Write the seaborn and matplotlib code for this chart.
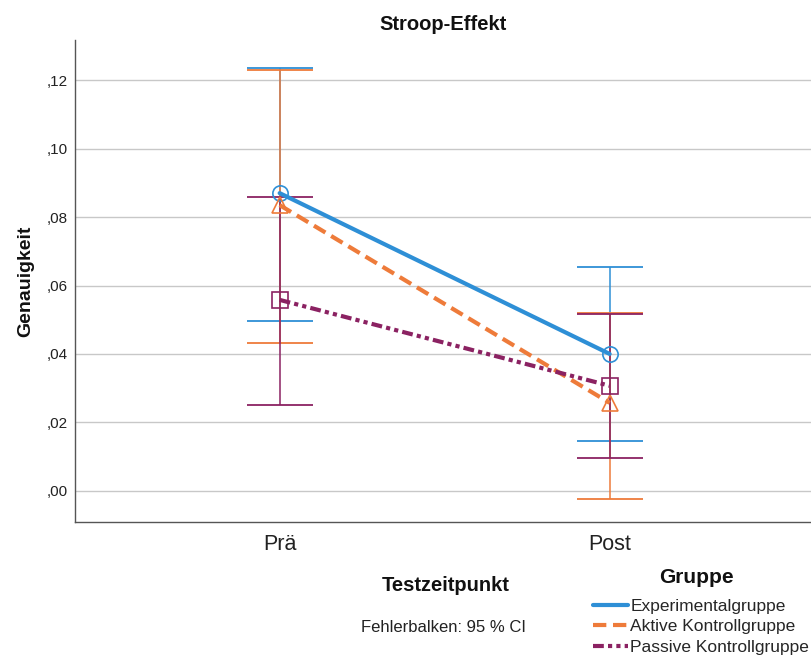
import numpy as np
import pandas as pd
import matplotlib
matplotlib.use("Agg")
import matplotlib.pyplot as plt
from matplotlib.lines import Line2D
import seaborn as sns

# Mittelwerte und 95 %-Konfidenzgrenzen der Genauigkeit (Stroop-Effekt)
zeitpunkte = ["Prä", "Post"]
gruppen = ["Experimentalgruppe", "Aktive Kontrollgruppe", "Passive Kontrollgruppe"]
mittel_exp = [0.0870, 0.0400]
mittel_akt = [0.0835, 0.0257]
mittel_pas = [0.0558, 0.0307]
ci_unten_exp = [0.0496, 0.0146]
ci_oben_exp = [0.1235, 0.0654]
ci_unten_akt = [0.0432, -0.0023]
ci_oben_akt = [0.1229, 0.0520]
ci_unten_pas = [0.0251, 0.0096]
ci_oben_pas = [0.0858, 0.0517]
y_ticks = [0.00, 0.02, 0.04, 0.06, 0.08, 0.10, 0.12]
y_tick_labels = [",00", ",02", ",04", ",06", ",08", ",10", ",12"]

farben = {"Experimentalgruppe": "#2e8fd6",
          "Aktive Kontrollgruppe": "#ee7b3a",
          "Passive Kontrollgruppe": "#8b2262"}
marker = {"Experimentalgruppe": "o",
          "Aktive Kontrollgruppe": "^",
          "Passive Kontrollgruppe": "s"}
striche = {"Experimentalgruppe": "",
           "Aktive Kontrollgruppe": (3.2, 1.6),
           "Passive Kontrollgruppe": (2.6, 1.0, 1.0, 1.0, 1.0, 1.0)}

mittel = [mittel_exp, mittel_akt, mittel_pas]
unten = [ci_unten_exp, ci_unten_akt, ci_unten_pas]
oben = [ci_oben_exp, ci_oben_akt, ci_oben_pas]

zeilen = []
for g, m, u, o in zip(gruppen, mittel, unten, oben):
    for z, mv, uv, ov in zip(zeitpunkte, m, u, o):
        zeilen.append({"Gruppe": g, "Testzeitpunkt": z,
                       "Genauigkeit": mv, "unten": uv, "oben": ov})
df = pd.DataFrame(zeilen)
pos = {z: i for i, z in enumerate(zeitpunkte)}
df["x"] = df["Testzeitpunkt"].map(pos)

sns.set_theme(style="white")
plt.rcParams["font.family"] = ["Liberation Sans", "DejaVu Sans"]

fig = plt.figure(figsize=(8.11, 6.59), dpi=100)
ax = fig.add_axes([0.0925, 0.208, 0.9075, 0.731])

# Fehlerbalken (95 % CI)
for g in gruppen:
    sub = df[df["Gruppe"] == g]
    ax.errorbar(sub["x"], sub["Genauigkeit"],
                yerr=[sub["Genauigkeit"] - sub["unten"], sub["oben"] - sub["Genauigkeit"]],
                fmt="none", ecolor=farben[g], elinewidth=1.1, capsize=23.5,
                capthick=1.3, zorder=2)

n_vorher = len(ax.lines)
sns.lineplot(data=df, x="x", y="Genauigkeit", hue="Gruppe", style="Gruppe",
             palette=farben, markers=marker, dashes=striche, linewidth=3.0,
             markersize=11, legend=False, ax=ax, zorder=3, sort=False)
# offene Marker in Linienfarbe
for ln in ax.lines[n_vorher:]:
    ln.set_markerfacecolor("none")
    ln.set_markeredgecolor(ln.get_color())
    ln.set_markeredgewidth(1.2)

ax.set_xlim(-0.62, 1.61)
ax.set_ylim(-0.0091, 0.1317)
ax.set_yticks(y_ticks)
ax.set_yticklabels(y_tick_labels, fontsize=11, color="#222222")
ax.set_xticks(list(pos.values()))
ax.set_xticklabels(zeitpunkte, fontsize=15.5, color="#222222")
ax.tick_params(axis="y", length=0, pad=5)
ax.tick_params(axis="x", length=0, pad=9)
ax.yaxis.grid(True, color="#c8c8c8", linewidth=1.0)
ax.xaxis.grid(False)
for s in ["top", "right"]:
    ax.spines[s].set_visible(False)
for s in ["left", "bottom"]:
    ax.spines[s].set_color("#555555")
    ax.spines[s].set_linewidth(1.0)

ax.set_xlabel("")
ax.set_ylabel("Genauigkeit", fontsize=14, fontweight="bold", color="#111111", labelpad=9)
ax.set_title("Stroop-Effekt", fontsize=14.5, fontweight="bold", color="#111111", pad=7)

fig.text(0.549, 0.112, "Testzeitpunkt", ha="center", va="center",
         fontsize=14.5, fontweight="bold", color="#111111")
fig.text(0.547, 0.048, "Fehlerbalken: 95 % CI", ha="center", va="center",
         fontsize=12, color="#222222")

handles = [Line2D([], [], color=farben[g], linewidth=3.0,
                  linestyle=(0, tuple(striche[g])) if striche[g] else "-")
           for g in gruppen]
leg = fig.legend(handles, gruppen, loc="center left", bbox_to_anchor=(0.731, 0.049),
                 frameon=False, fontsize=12.5, handlelength=2.0, handletextpad=0.15,
                 labelspacing=0.32, borderpad=0.0, borderaxespad=0.0)
fig.text(0.859, 0.124, "Gruppe", ha="center", va="center",
         fontsize=15, fontweight="bold", color="#111111")

fig.savefig("out.png", dpi=100)
